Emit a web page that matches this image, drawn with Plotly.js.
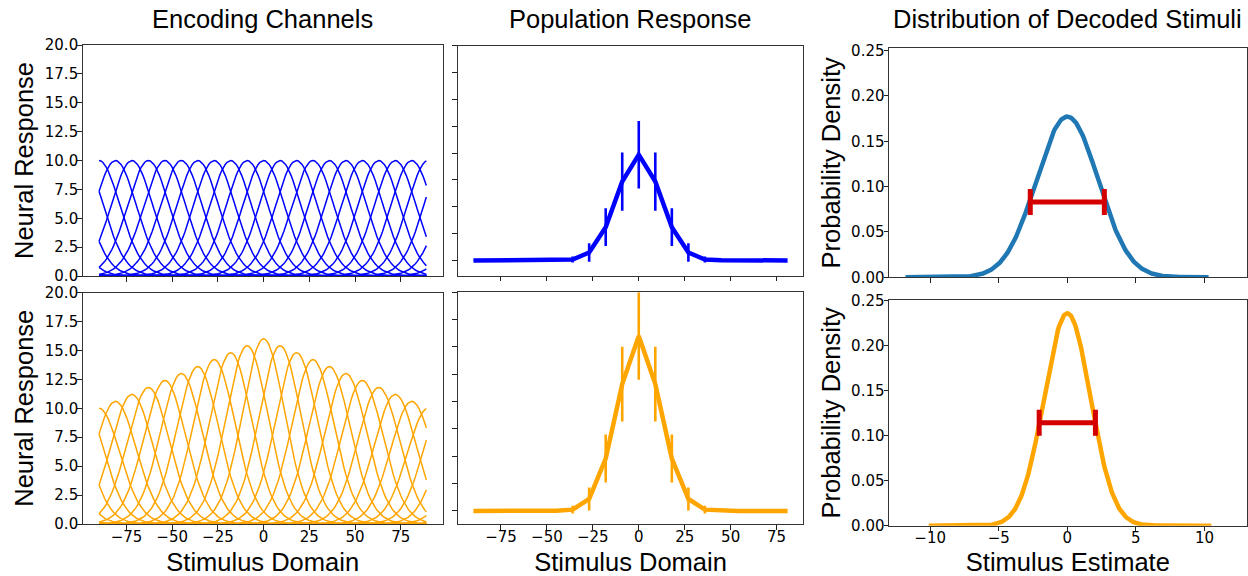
<!DOCTYPE html>
<html>
<head>
<meta charset="utf-8">
<script src="https://cdn.plot.ly/plotly-3.0.1.min.js"></script>
<style>
  html, body { margin: 0; padding: 0; background: #ffffff; }
  #chart { width: 1248px; height: 576px; }
</style>
</head>
<body>
<div id="chart"></div>
<script>
// ---- Encoding channels: preferred stimuli and peak gains ----
const channelCenters = [-90, -81, -72, -63, -54, -45, -36, -27, -18, -9, 0, 9, 18, 27, 36, 45, 54, 63, 72, 81];
const uniformGains = [10, 10, 10, 10, 10, 10, 10, 10, 10, 10, 10, 10, 10, 10, 10, 10, 10, 10, 10, 10];
const boostedGains = [10.0, 10.6, 11.2, 11.8, 12.4, 13.0, 13.6, 14.2, 14.8, 15.4, 16.0, 15.4, 14.8, 14.2, 13.6, 13.0, 12.4, 11.8, 11.2, 10.6];
const tuningKappa = 6.3;          // von Mises concentration of each channel
const stimulusStart = -90;        // circular stimulus domain (period 180)
const stimulusEnd = 89;

// ---- Population response to a stimulus at 0 (mean and spread per channel) ----
const uniformPopMean = [0, 0, 0, 0, 0, 0.02, 0.08, 0.74, 3.1, 7.35, 9.85, 7.35, 3.1, 0.74, 0.08, 0.02, 0, 0, 0, 0];
const uniformPopErr  = [0, 0, 0, 0, 0, 0, 0.28, 0.86, 1.76, 2.71, 3.14, 2.71, 1.76, 0.86, 0.28, 0, 0, 0, 0, 0];
const boostedPopMean = [0, 0, 0, 0, 0, 0.02, 0.12, 1.1, 4.8, 11.6, 16.0, 11.6, 4.8, 1.1, 0.12, 0.02, 0, 0, 0, 0];
const boostedPopErr  = [0, 0, 0, 0, 0, 0, 0.35, 1.05, 2.19, 3.41, 4.0, 3.41, 2.19, 1.05, 0.35, 0, 0, 0, 0, 0];

// ---- Decoded stimulus distributions (uniform gains, boosted gains) ----
const decodedMean = [0, 0];
const decodedSD = [2.25, 1.69];
const decodedLow = [-11.8, -10.1];
const decodedHigh = [10.3, 10.5];
const spreadBarLevel = [0.083, 0.1145];
const spreadBarHalfWidth = [2.7, 2.05];

// ---- Tick labels ----
const domainTicks = [-75, -50, -25, 0, 25, 50, 75];
const responseTicks = [0, 2.5, 5, 7.5, 10, 12.5, 15, 17.5, 20];
const estimateTicks = [-10, -5, 0, 5, 10];
const densityTicks = [0, 0.05, 0.10, 0.15, 0.20, 0.25];

const BLUE = '#0000ff';
const ORANGE = '#ffa500';
const PDF_BLUE = '#1f77b4';
const RED = '#d40000';

const stimulusGrid = [];
for (let s = stimulusStart; s <= stimulusEnd; s++) stimulusGrid.push(s);

function vonMises(x, c) {
  const d = (x - c) * Math.PI / 90;
  return Math.exp(tuningKappa * (Math.cos(d) - 1));
}

const traces = [];

function channelTraces(gains, color, xa, ya) {
  channelCenters.forEach((c, i) => {
    traces.push({
      type: 'scatter', mode: 'lines', xaxis: xa, yaxis: ya,
      x: stimulusGrid,
      y: stimulusGrid.map(s => gains[i] * vonMises(s, c)),
      line: { color: color, width: 1.5 },
      hoverinfo: 'skip', showlegend: false
    });
  });
}
channelTraces(uniformGains, BLUE, 'x', 'y');
channelTraces(boostedGains, ORANGE, 'x4', 'y4');

function popTrace(mean, err, color, xa, ya) {
  traces.push({
    type: 'scatter', mode: 'lines', xaxis: xa, yaxis: ya,
    x: channelCenters, y: mean,
    line: { color: color, width: 4.5 },
    error_y: { type: 'data', array: err, visible: true, color: color, thickness: 2.6, width: 0 },
    showlegend: false
  });
}
popTrace(uniformPopMean, uniformPopErr, BLUE, 'x2', 'y2');
popTrace(boostedPopMean, boostedPopErr, ORANGE, 'x5', 'y5');

function pdfTraces(k, color, xa, ya) {
  const xs = [], ys = [];
  const n = 400;
  for (let i = 0; i <= n; i++) {
    const x = decodedLow[k] + (decodedHigh[k] - decodedLow[k]) * i / n;
    const z = (x - decodedMean[k]) / decodedSD[k];
    xs.push(x);
    ys.push(Math.exp(-0.5 * z * z) / (decodedSD[k] * Math.sqrt(2 * Math.PI)));
  }
  traces.push({
    type: 'scatter', mode: 'lines', xaxis: xa, yaxis: ya,
    x: xs, y: ys, line: { color: color, width: 4.5 }, showlegend: false
  });
  traces.push({
    type: 'scatter', mode: 'markers', xaxis: xa, yaxis: ya,
    x: [decodedMean[k]], y: [spreadBarLevel[k]],
    marker: { size: 1, color: RED, opacity: 0 },
    error_x: { type: 'data', array: [spreadBarHalfWidth[k]], visible: true, color: RED, thickness: 5, width: 13 },
    showlegend: false
  });
}
pdfTraces(0, PDF_BLUE, 'x3', 'y3');
pdfTraces(1, ORANGE, 'x6', 'y6');

const W = 1248, H = 576;
const fx = (a, b) => [a / W, b / W];
const fy = (top, bottom) => [1 - bottom / H, 1 - top / H];

const tickFont = { family: 'DejaVu Sans, sans-serif', size: 15, color: '#000' };
const titleFont = { family: 'Liberation Sans, Arial, sans-serif', size: 25.5, color: '#000' };

function xAxis(domain, range, ticks, anchor, showLabels, title, fmt) {
  const ax = {
    domain: domain, range: range, anchor: anchor,
    tickmode: 'array', tickvals: ticks, showticklabels: showLabels,
    ticks: 'outside', ticklen: 4.5, tickwidth: 1, tickcolor: '#222',
    ticklabelstandoff: -6,
    showline: true, linecolor: '#333', linewidth: 1, mirror: true,
    showgrid: false, zeroline: false, tickfont: tickFont, automargin: false
  };
  if (fmt) ax.tickformat = fmt;
  if (title) ax.title = { text: title, font: titleFont, standoff: 10 };
  return ax;
}
function yAxis(domain, range, ticks, anchor, showLabels, fmt, title) {
  const ax = {
    domain: domain, range: range, anchor: anchor,
    tickmode: 'array', tickvals: ticks, showticklabels: showLabels, tickformat: fmt,
    ticks: 'outside', ticklen: 4.5, tickwidth: 1, tickcolor: '#222',
    ticklabelstandoff: -4,
    showline: true, linecolor: '#333', linewidth: 1, mirror: true,
    showgrid: false, zeroline: false, tickfont: tickFont, automargin: false
  };
  if (title) ax.title = { text: title, font: titleFont, standoff: 3 };
  return ax;
}

const colL = fx(82.7, 442.7), colM = fx(457.7, 803.3), colR = fx(889, 1246.7);

const layout = {
  width: W, height: H,
  margin: { l: 0, r: 0, t: 0, b: 0 },
  paper_bgcolor: '#ffffff', plot_bgcolor: '#ffffff',
  showlegend: false,
  xaxis:  xAxis(colL, [-98.95, 97.95], domainTicks, 'y', false),
  yaxis:  yAxis(fy(45, 276), [0, 20], responseTicks, 'x', true, '.1f', 'Neural Response'),
  xaxis2: xAxis(colM, [-98.55, 89.55], domainTicks, 'y2', false),
  yaxis2: yAxis(fy(45.7, 275.7), [-1.42, 20], responseTicks, 'x2', false, '.1f'),
  xaxis3: xAxis(colR, [-13, 13.08], estimateTicks, 'y3', false),
  yaxis3: yAxis(fy(48.3, 277.3), [0, 0.2526], densityTicks, 'x3', true, '.2f', 'Probability Density'),
  xaxis4: xAxis(colL, [-98.95, 97.95], domainTicks, 'y4', true, 'Stimulus Domain'),
  yaxis4: yAxis(fy(292.5, 524), [0, 20], responseTicks, 'x4', true, '.1f', 'Neural Response'),
  xaxis5: xAxis(colM, [-98.55, 89.55], domainTicks, 'y5', true, 'Stimulus Domain'),
  yaxis5: yAxis(fy(292.3, 524.3), [-1.22, 20], responseTicks, 'x5', false, '.1f'),
  xaxis6: xAxis(colR, [-13, 13.08], estimateTicks, 'y6', true, 'Stimulus Estimate'),
  yaxis6: yAxis(fy(300, 525.7), [0, 0.2508], densityTicks, 'x6', true, '.2f', 'Probability Density'),
  annotations: [
    { text: 'Encoding Channels', x: (colL[0] + colL[1]) / 2 },
    { text: 'Population Response', x: (colM[0] + colM[1]) / 2 },
    { text: 'Distribution of Decoded Stimuli', x: (colR[0] + colR[1]) / 2 }
  ].map(a => ({
    text: a.text, x: a.x, xref: 'paper', y: 1 - 19 / H, yref: 'paper',
    xanchor: 'center', yanchor: 'middle', showarrow: false, font: titleFont
  }))
};

Plotly.newPlot('chart', traces, layout, { staticPlot: true, displayModeBar: false });
</script>
</body>
</html>
